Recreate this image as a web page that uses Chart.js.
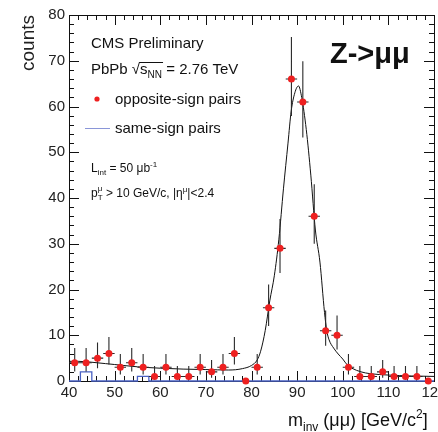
<!DOCTYPE html>
<html>
<head>
<meta charset="utf-8">
<script src="https://cdn.jsdelivr.net/npm/chart.js@4.4.1/dist/chart.umd.min.js"></script>
<style>
  html, body { margin: 0; padding: 0; background: #fff; overflow: hidden; }
  #wrap { width: 438px; height: 432px; }
</style>
</head>
<body>
<div id="wrap"><canvas id="chart" width="438" height="432"></canvas></div>
<script>
// bins of the invariant mass histogram (GeV/c^2), width 2.5
const binCenters = [41.25, 43.75, 46.25, 48.75, 51.25, 53.75, 56.25, 58.75, 61.25, 63.75,
  66.25, 68.75, 71.25, 73.75, 76.25, 78.75, 81.25, 83.75, 86.25, 88.75,
  91.25, 93.75, 96.25, 98.75, 101.25, 103.75, 106.25, 108.75, 111.25, 113.75,
  116.25, 118.75];
const halfBin = 1.25;

// opposite-sign pairs
const osCounts = [4, 4, 5, 6, 3, 4, 3, 1, 3, 1,
  1, 3, 2, 3, 6, 0, 3, 16, 29, 66,
  61, 36, 11, 10, 3, 1, 1, 2, 1, 1,
  1, 0];
const osErrUp = [3.2, 3.2, 3.4, 3.6, 2.9, 3.2, 2.9, 2.3, 2.9, 2.3,
  2.3, 2.9, 2.6, 2.9, 3.6, 0, 2.9, 5.1, 6.4, 9.2,
  8.9, 7.0, 4.4, 4.3, 2.9, 2.3, 2.3, 2.6, 2.3, 2.3,
  2.3, 0];
const osErrDown = [1.9, 1.9, 2.2, 2.4, 1.6, 1.9, 1.6, 0.8, 1.6, 0.8,
  0.8, 1.6, 1.3, 1.6, 2.4, 0, 1.6, 4.0, 5.4, 8.1,
  7.8, 6.0, 3.3, 3.1, 1.6, 0.8, 0.8, 1.3, 0.8, 0.8,
  0.8, 0];

// same-sign pairs
const ssCounts = [0, 2, 0, 0, 0, 0, 1, 0, 0, 0,
  0, 0, 0, 0, 0, 0, 0, 0, 0, 0,
  0, 0, 0, 0, 0, 0, 0, 0, 0, 0,
  0, 0];

// fit curve
const fitX = [40, 42, 45, 48, 50, 55, 60, 65, 70, 75, 78, 80, 81.25, 82, 83, 84, 85, 86, 87, 88,
  88.7, 89.5, 90.3, 91, 92, 93, 94, 95, 96, 96.5, 97, 98, 99, 100, 101, 102, 104, 106, 110, 115, 120];
const fitY = [4.3, 4.3, 4.1, 3.8, 3.6, 3.1, 2.8, 2.6, 2.5, 2.4, 2.7, 3.4, 4.6, 6.5, 11, 17.5, 23, 31, 42, 52,
  59, 63, 64.5, 62, 55, 45, 33, 26, 15, 11, 9, 7.2, 5.9, 4.8, 3.5, 2.8, 2.0, 1.6, 1.3, 1.1, 1.0];

const FONT = '"Liberation Sans", Arial, sans-serif';

const frameTicks = {
  id: 'frameTicks',
  beforeDatasetsDraw(chart) {
    const { ctx, chartArea: a, scales: { x, y } } = chart;
    ctx.save();
    ctx.strokeStyle = '#111';
    ctx.lineWidth = 1;
    ctx.strokeRect(a.left + 0.5, a.top + 0.5, a.right - a.left, a.bottom - a.top);
    ctx.beginPath();
    x.ticks.forEach(t => {
      const px = Math.round(x.getPixelForValue(t.value)) + 0.5;
      const len = t.value % 10 === 0 ? 10 : 5;
      ctx.moveTo(px, a.bottom); ctx.lineTo(px, a.bottom - len);
      ctx.moveTo(px, a.top); ctx.lineTo(px, a.top + len);
    });
    y.ticks.forEach(t => {
      const py = Math.round(y.getPixelForValue(t.value)) + 0.5;
      const len = t.value % 10 === 0 ? 10 : 5;
      ctx.moveTo(a.left, py); ctx.lineTo(a.left + len, py);
      ctx.moveTo(a.right, py); ctx.lineTo(a.right - len, py);
    });
    ctx.stroke();
    ctx.restore();
  }
};

const errorBars = {
  id: 'errorBars',
  afterDatasetDraw(chart, args) {
    if (args.index !== 1) return; // after the fit line, before the points
    const { ctx, scales: { x, y } } = chart;
    ctx.save();
    ctx.strokeStyle = '#2a2a2a';
    ctx.lineWidth = 1.1;
    ctx.beginPath();
    binCenters.forEach((c, i) => {
      if (osCounts[i] === 0) return;
      const px = x.getPixelForValue(c);
      const py = y.getPixelForValue(osCounts[i]);
      ctx.moveTo(px, y.getPixelForValue(osCounts[i] + osErrUp[i]));
      ctx.lineTo(px, y.getPixelForValue(osCounts[i] - osErrDown[i]));
      ctx.moveTo(x.getPixelForValue(c - halfBin), py);
      ctx.lineTo(x.getPixelForValue(c + halfBin), py);
    });
    ctx.stroke();
    ctx.restore();
  }
};

function drawRich(ctx, x, y, parts) {
  parts.forEach(p => {
    ctx.font = (p.bold ? 'bold ' : '') + p.size + 'px ' + FONT;
    ctx.fillText(p.t, x, y + (p.dy || 0));
    if (!p.stack) x += ctx.measureText(p.t).width;
  });
  return x;
}

const annotations = {
  id: 'annotations',
  afterDraw(chart) {
    const { ctx } = chart;
    ctx.save();
    ctx.fillStyle = '#111';
    ctx.textBaseline = 'alphabetic';
    ctx.textAlign = 'left';

    drawRich(ctx, 91, 48, [{ t: 'CMS Preliminary', size: 15 }]);

    let x0 = drawRich(ctx, 91, 74, [{ t: 'PbPb ', size: 15 }]);
    const x1 = drawRich(ctx, x0, 74, [{ t: '\u221A', size: 15 }]);
    const x2 = drawRich(ctx, x1, 74, [{ t: 's', size: 15 }, { t: 'NN', size: 10, dy: 4 }]);
    ctx.strokeStyle = '#111';
    ctx.lineWidth = 1;
    ctx.beginPath();
    ctx.moveTo(x1 - 1, 62.5); ctx.lineTo(x2 + 1, 62.5);
    ctx.stroke();
    drawRich(ctx, x2, 74, [{ t: ' = 2.76 TeV', size: 15 }]);

    // legend
    ctx.fillStyle = '#ee2020';
    ctx.beginPath();
    ctx.arc(97, 99, 2.6, 0, Math.PI * 2);
    ctx.fill();
    ctx.strokeStyle = '#8a96d8';
    ctx.beginPath();
    ctx.moveTo(85, 128.5); ctx.lineTo(110, 128.5);
    ctx.stroke();
    ctx.fillStyle = '#111';
    drawRich(ctx, 115, 104, [{ t: 'opposite-sign pairs', size: 15 }]);
    drawRich(ctx, 115, 133, [{ t: 'same-sign pairs', size: 15 }]);

    drawRich(ctx, 91, 172, [
      { t: 'L', size: 12 }, { t: 'int', size: 8, dy: 3 },
      { t: ' = 50 \u03BCb', size: 12 }, { t: '-1', size: 8, dy: -5 }
    ]);
    drawRich(ctx, 91, 197, [
      { t: 'p', size: 12 }, { t: '\u03BC', size: 8, dy: -6, stack: true }, { t: 'T', size: 8, dy: 3 },
      { t: ' > 10 GeV/c, |\u03B7', size: 12 }, { t: '\u03BC', size: 8, dy: -5 },
      { t: '|<2.4', size: 12 }
    ]);

    drawRich(ctx, 330, 63, [{ t: 'Z->\u03BC\u03BC', size: 29, bold: true }]);

    // x axis title
    drawRich(ctx, 288, 426, [
      { t: 'm', size: 18 }, { t: 'inv', size: 12, dy: 5 },
      { t: ' (\u03BC\u03BC) [GeV/c', size: 18 }, { t: '2', size: 12, dy: -8 },
      { t: ']', size: 18 }
    ]);
    ctx.restore();
  }
};

const ssLine = [];
binCenters.forEach((c, i) => {
  ssLine.push({ x: c - halfBin, y: ssCounts[i] });
  ssLine.push({ x: c + halfBin, y: ssCounts[i] });
});

const fitLine = fitX.map((v, i) => ({ x: v, y: fitY[i] }));
const osPoints = binCenters.map((c, i) => ({ x: c, y: osCounts[i] }));

const noPad = s => { s.paddingLeft = 0; s.paddingRight = 0; s.paddingTop = 0; s.paddingBottom = 0; };

new Chart(document.getElementById('chart'), {
  type: 'scatter',
  data: {
    datasets: [
      {
        label: 'opposite-sign pairs',
        data: osPoints,
        backgroundColor: '#ee2020',
        borderWidth: 0,
        pointRadius: 3.5,
        clip: false,
        order: 0
      },
      {
        label: 'fit',
        type: 'line',
        data: fitLine,
        borderColor: '#111',
        borderWidth: 1,
        pointRadius: 0,
        cubicInterpolationMode: 'monotone',
        fill: false,
        order: 1
      },
      {
        label: 'same-sign pairs',
        type: 'line',
        data: ssLine,
        borderColor: '#4a62c4',
        borderWidth: 1.3,
        pointRadius: 0,
        tension: 0,
        fill: false,
        clip: false,
        order: 2
      }
    ]
  },
  options: {
    responsive: false,
    animation: false,
    devicePixelRatio: 1,
    layout: { padding: { left: 0, top: 15, right: 3, bottom: 0 } },
    plugins: { legend: { display: false }, tooltip: { enabled: false } },
    scales: {
      x: {
        type: 'linear',
        min: 40,
        max: 120,
        grid: { display: false, drawTicks: false },
        border: { display: false },
        ticks: {
          stepSize: 2,
          autoSkip: false,
          maxRotation: 0,
          padding: 3,
          color: '#222',
          font: { family: FONT, size: 15 },
          callback: v => (v % 10 === 0 ? v : '')
        },
        afterFit: s => { s.height = 51; noPad(s); }
      },
      y: {
        type: 'linear',
        min: 0,
        max: 80,
        grid: { display: false, drawTicks: false },
        border: { display: false },
        title: {
          display: true,
          text: 'counts',
          align: 'end',
          color: '#222',
          font: { family: FONT, size: 19 },
          padding: { top: 17, bottom: 0 }
        },
        ticks: {
          stepSize: 2,
          autoSkip: false,
          padding: 4,
          color: '#222',
          font: { family: FONT, size: 15 },
          callback: v => (v % 10 === 0 ? v : '')
        },
        afterFit: s => { s.width = 69; noPad(s); }
      }
    }
  },
  plugins: [frameTicks, errorBars, annotations]
});
</script>
</body>
</html>
